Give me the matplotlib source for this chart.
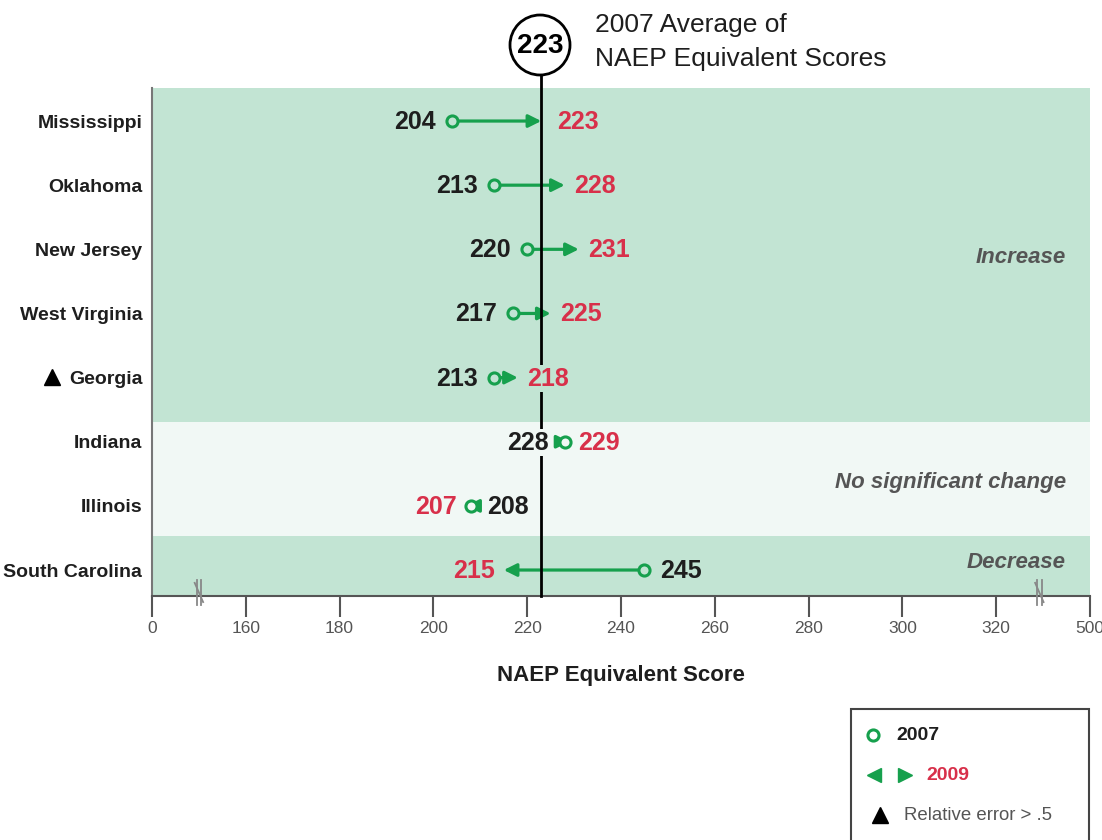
import matplotlib
matplotlib.use("Agg")
import matplotlib.pyplot as plt
from matplotlib.patches import Ellipse, Rectangle
from matplotlib.lines import Line2D

plt.rcParams['font.family'] = ['Liberation Sans', 'DejaVu Sans']

# data
states = ['Mississippi', 'Oklahoma', 'New Jersey', 'West Virginia', 'Georgia',
          'Indiana', 'Illinois', 'South Carolina']
score_2007 = [204, 213, 220, 217, 213, 228, 208, 245]
score_2009 = [223, 228, 231, 225, 218, 229, 207, 215]
rel_error = [False, False, False, False, True, False, False, False]
avg_2007 = 223
band_names = ['Increase', 'No significant change', 'Decrease']
# axis: 0 and 500 sit one step outside the broken 160-320 range
tick_pos = [140, 160, 180, 200, 220, 240, 260, 280, 300, 320, 340]
tick_labels = ['0', '160', '180', '200', '220', '240', '260', '280', '300', '320', '500']

green = '#16a04d'
red = '#d8304a'
dark = '#1e1e1e'
grey = '#555555'
band_dark = '#c2e4d3'
band_light = '#f1f8f5'

W, H = 1102, 840
fig = plt.figure(figsize=(W / 100, H / 100), dpi=100)
ax = fig.add_axes([152 / W, 1 - 596 / H, (1090 - 152) / W, (596 - 88) / H])

def fx(px):
    return px / W

def fy(py):
    return 1 - py / H

ytop, ybot = -0.515, 7.405
ax.set_xlim(140, 340)
ax.set_ylim(ybot, ytop)

# shaded bands
band_edges = [ytop, 4.69, 6.47, ybot]
band_cols = [band_dark, band_light, band_dark]
band_text_y = [2.12, 5.63, 6.88]
for i in range(3):
    ax.axhspan(band_edges[i], band_edges[i + 1], color=band_cols[i], lw=0, zorder=0)
    ax.text(334.9, band_text_y[i], band_names[i], ha='right', va='center',
            fontsize=16, fontstyle='italic', fontweight='bold', color=grey, zorder=2)

def band_color(y):
    return band_light if band_edges[1] <= y < band_edges[2] else band_dark

# average line
ax.plot([avg_2007, avg_2007], [ytop - 13 / 64.1, ybot], color='black', lw=2,
        zorder=4, clip_on=False)

for i, (a, b) in enumerate(zip(score_2007, score_2009)):
    ax.annotate('', xy=(b, i), xytext=(a, i),
                arrowprops=dict(arrowstyle='-|>', color=green, lw=2.3,
                                mutation_scale=19, shrinkA=0, shrinkB=0),
                zorder=3)
    ax.plot(a, i, 'o', ms=8, mfc=band_color(i), mec=green, mew=2.2, zorder=5)
    d = 1 if b >= a else -1
    bc = band_color(i)
    off_new = 16 if (d > 0 and abs(b - avg_2007) < 2) else 9
    ax.annotate(str(a), xy=(a, i), xytext=(-16 * d, -1), textcoords='offset pixels',
                ha='right' if d > 0 else 'left', va='center', fontsize=18,
                fontweight='bold', color=dark, zorder=6,
                bbox=dict(boxstyle='square,pad=0.05', fc=bc, ec='none'))
    ax.annotate(str(b), xy=(b, i), xytext=(off_new * d, -1), textcoords='offset pixels',
                ha='left' if d > 0 else 'right', va='center', fontsize=18,
                fontweight='bold', color=red, zorder=6,
                bbox=dict(boxstyle='square,pad=0.05', fc=bc, ec='none'))

# axes styling
ax.set_yticks(range(len(states)))
ax.set_yticklabels(states, fontsize=14, fontweight='bold', color=dark)
ax.tick_params(axis='y', length=0, pad=7)
ax.set_xticks(tick_pos)
ax.set_xticklabels(tick_labels, fontsize=12.5, color=grey)
ax.tick_params(axis='x', length=15, width=1.5, color=grey, pad=3)
for s in ['top', 'right']:
    ax.spines[s].set_visible(False)
ax.spines['left'].set_color('#777777')
ax.spines['left'].set_linewidth(1.5)
ax.spines['bottom'].set_color('#555555')
ax.spines['bottom'].set_linewidth(1.5)
ax.set_xlabel('NAEP Equivalent Score', fontsize=16, fontweight='bold', color=dark,
              labelpad=21)

# axis break marks
for bx in [150, 329.2]:
    ax.add_line(Line2D([bx - 0.5, bx - 0.5], [7.16, 7.55], color='#888888', lw=1.3,
                       clip_on=False, zorder=7))
    ax.add_line(Line2D([bx + 0.5, bx + 0.5], [7.16, 7.55], color='#888888', lw=1.3,
                       clip_on=False, zorder=7))
    ax.add_line(Line2D([bx - 0.9, bx + 0.9], [7.2, 7.5], color='#888888', lw=1.3,
                       clip_on=False, zorder=7))

# relative-error flag next to state names
for i, flag in enumerate(rel_error):
    if flag:
        fig.add_artist(Line2D([fx(52)], [fy(121 + i * 64.1)], marker='^', ms=11,
                              color='black', ls='none'))

# circled average on top
fig.add_artist(Ellipse((fx(540), fy(45)), 60 / W, 60 / H, fc='white', ec='black', lw=2))
fig.text(fx(540), fy(46), str(avg_2007), ha='center', va='center', fontsize=20,
         fontweight='bold', color='black')
fig.text(fx(595), fy(42), '2007 Average of\nNAEP Equivalent Scores', ha='left',
         va='center', fontsize=19, color=dark, linespacing=1.5)

# legend box
fig.add_artist(Rectangle((fx(851), fy(850)), (1089 - 851) / W, (850 - 709) / H,
                         fc='white', ec='#444444', lw=1.5))
fig.add_artist(Line2D([fx(873)], [fy(735)], marker='o', ms=8, mfc='white', mec=green,
                      mew=2.2, ls='none'))
fig.text(fx(896), fy(736), '2007', ha='left', va='center', fontsize=14,
         fontweight='bold', color=dark)
fig.add_artist(Line2D([fx(874)], [fy(775)], marker='<', ms=10, color=green, ls='none'))
fig.add_artist(Line2D([fx(905)], [fy(775)], marker='>', ms=10, color=green, ls='none'))
fig.text(fx(926), fy(776), '2009', ha='left', va='center', fontsize=14,
         fontweight='bold', color=red)
fig.add_artist(Line2D([fx(880)], [fy(815)], marker='^', ms=12, color='black', ls='none'))
fig.text(fx(904), fy(816), 'Relative error > .5', ha='left', va='center', fontsize=13.4,
         color=grey)

fig.savefig('out.png', dpi=100)
